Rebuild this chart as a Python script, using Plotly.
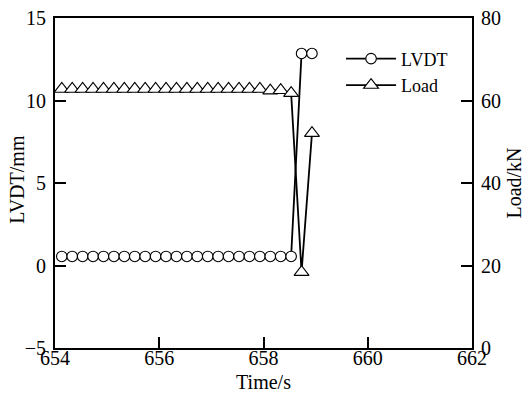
import plotly.graph_objects as go

# Data
time_s = [654.13 + 0.2 * k for k in range(25)]
lvdt_mm = [0.55] * 23 + [12.85, 12.85]
load_kn = [62.8] * 20 + [62.4, 62.5, 61.8, 18.4, 52.1]

FONT = "Liberation Serif"
FS = 20
fig = go.Figure()
fig.add_trace(go.Scatter(
    x=time_s, y=lvdt_mm, name="LVDT", mode="lines+markers",
    line=dict(color="black", width=1.8),
    marker=dict(symbol="circle", size=10.5, color="white",
                line=dict(color="black", width=1.1)),
))
fig.add_trace(go.Scatter(
    x=time_s, y=load_kn, name="Load", mode="lines+markers", yaxis="y2",
    line=dict(color="black", width=1.8),
    marker=dict(symbol="triangle-up", size=13, color="white",
                line=dict(color="black", width=1.1)),
))

axis_common = dict(
    showgrid=False, zeroline=False, showline=True, linecolor="black",
    linewidth=2, ticks="inside", ticklen=11, tickwidth=2, tickcolor="black",
    tickfont=dict(family=FONT, size=FS, color="black"), automargin=False,
)
fig.update_layout(
    width=525, height=397,
    margin=dict(l=55, r=53, t=18, b=49),
    plot_bgcolor="white", paper_bgcolor="white",
    font=dict(family=FONT, size=FS, color="black"),
    xaxis=dict(range=[654, 662], dtick=2, tick0=654, mirror=True,
               ticklabelstandoff=-9,
               title=dict(text="Time/s", font=dict(family=FONT, size=FS), standoff=7),
               **axis_common),
    yaxis=dict(range=[-5, 15], dtick=5, tick0=-5, ticklabelstandoff=3,
               **axis_common),
    yaxis2=dict(range=[0, 80], dtick=20, tick0=0, overlaying="y", side="right",
                ticklabelstandoff=3,
                title=dict(text="Load/kN", font=dict(family=FONT, size=FS), standoff=7),
                **axis_common),
    annotations=[dict(text="LVDT/mm", textangle=-90, xref="paper", yref="paper",
                      x=(17 - 55) / 417, y=0.51, xanchor="center", yanchor="middle",
                      showarrow=False, font=dict(family=FONT, size=FS, color="black"))],
    showlegend=True,
    legend=dict(x=0.686, y=0.932, xanchor="left", yanchor="top",
                bgcolor="rgba(0,0,0,0)", font=dict(family=FONT, size=18),
                itemwidth=50, tracegroupgap=0),
)
fig.write_html(
    "out.html",
    config={"displayModeBar": False},
    post_script=("document.body.style.margin='0';"
                 "document.documentElement.style.overflow='hidden';"
                 "document.body.style.overflow='hidden';"),
)
